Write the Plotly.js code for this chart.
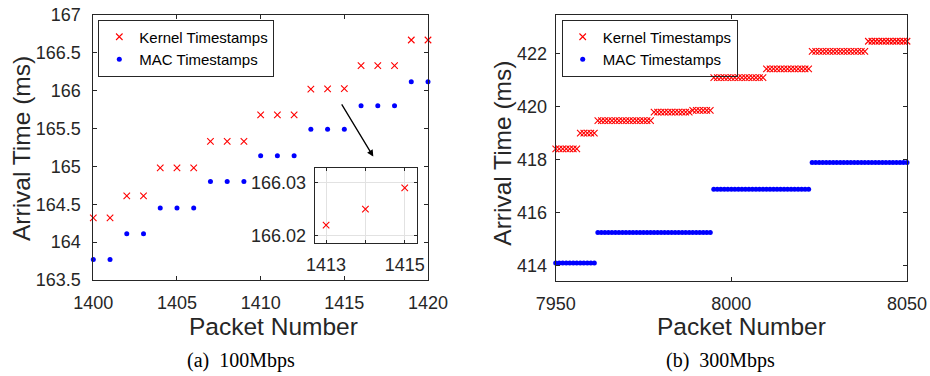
<!DOCTYPE html>
<html>
<head>
<meta charset="utf-8">
<script src="https://cdn.plot.ly/plotly-3.0.1.min.js"></script>
<style>
  html, body { margin: 0; padding: 0; background: #ffffff; }
  #chart { width: 930px; height: 376px; }
</style>
</head>
<body>
<div id="chart"></div>
<script>
// (a) 100Mbps: arrival time per packet
const packetsA = [1400, 1401, 1402, 1403, 1404, 1405, 1406, 1407, 1408, 1409, 1410,
                  1411, 1412, 1413, 1414, 1415, 1416, 1417, 1418, 1419, 1420];
const kernelA = [164.32, 164.32, 164.61, 164.61, 164.98, 164.98, 164.98, 165.33, 165.33, 165.33, 165.68,
                 165.68, 165.68, 166.022, 166.025, 166.029, 166.33, 166.33, 166.33, 166.67, 166.67];
const macA = [163.77, 163.77, 164.11, 164.11, 164.45, 164.45, 164.45, 164.80, 164.80, 164.80, 165.14,
              165.14, 165.14, 165.49, 165.49, 165.49, 165.80, 165.80, 165.80, 166.12, 166.12];

// zoomed window of three kernel timestamps
const insetPackets = [1413, 1414, 1415];
const insetKernel = [166.022, 166.025, 166.029];

// (b) 300Mbps: arrival time per packet
const packetsB = [
  7950, 7951, 7952, 7953, 7954, 7955, 7956, 7957, 7958, 7959,
  7960, 7961, 7962, 7963, 7964, 7965, 7966, 7967, 7968, 7969,
  7970, 7971, 7972, 7973, 7974, 7975, 7976, 7977, 7978, 7979,
  7980, 7981, 7982, 7983, 7984, 7985, 7986, 7987, 7988, 7989,
  7990, 7991, 7992, 7993, 7994, 7995, 7996, 7997, 7998, 7999,
  8000, 8001, 8002, 8003, 8004, 8005, 8006, 8007, 8008, 8009,
  8010, 8011, 8012, 8013, 8014, 8015, 8016, 8017, 8018, 8019,
  8020, 8021, 8022, 8023, 8024, 8025, 8026, 8027, 8028, 8029,
  8030, 8031, 8032, 8033, 8034, 8035, 8036, 8037, 8038, 8039,
  8040, 8041, 8042, 8043, 8044, 8045, 8046, 8047, 8048, 8049, 8050
];
const kernelB = [
  418.40, 418.40, 418.40, 418.40, 418.40, 418.40, 418.40, 419.00, 419.00, 419.00,
  419.00, 419.00, 419.47, 419.47, 419.47, 419.47, 419.47, 419.47, 419.47, 419.47,
  419.47, 419.47, 419.47, 419.47, 419.47, 419.47, 419.47, 419.47, 419.79, 419.79,
  419.79, 419.79, 419.79, 419.79, 419.79, 419.79, 419.79, 419.79, 419.79, 419.85,
  419.85, 419.85, 419.85, 419.85, 419.85, 421.09, 421.09, 421.09, 421.09, 421.09,
  421.09, 421.09, 421.09, 421.09, 421.09, 421.09, 421.09, 421.09, 421.09, 421.09,
  421.42, 421.42, 421.42, 421.42, 421.42, 421.42, 421.42, 421.42, 421.42, 421.42,
  421.42, 421.42, 421.42, 422.08, 422.08, 422.08, 422.08, 422.08, 422.08, 422.08,
  422.08, 422.08, 422.08, 422.08, 422.08, 422.08, 422.08, 422.08, 422.08, 422.46,
  422.46, 422.46, 422.46, 422.46, 422.46, 422.46, 422.46, 422.46, 422.46, 422.46, 422.46
];
const macB = [
  414.10, 414.10, 414.10, 414.10, 414.10, 414.10, 414.10, 414.10, 414.10, 414.10,
  414.10, 414.10, 415.25, 415.25, 415.25, 415.25, 415.25, 415.25, 415.25, 415.25,
  415.25, 415.25, 415.25, 415.25, 415.25, 415.25, 415.25, 415.25, 415.25, 415.25,
  415.25, 415.25, 415.25, 415.25, 415.25, 415.25, 415.25, 415.25, 415.25, 415.25,
  415.25, 415.25, 415.25, 415.25, 415.25, 416.88, 416.88, 416.88, 416.88, 416.88,
  416.88, 416.88, 416.88, 416.88, 416.88, 416.88, 416.88, 416.88, 416.88, 416.88,
  416.88, 416.88, 416.88, 416.88, 416.88, 416.88, 416.88, 416.88, 416.88, 416.88,
  416.88, 416.88, 416.88, 417.89, 417.89, 417.89, 417.89, 417.89, 417.89, 417.89,
  417.89, 417.89, 417.89, 417.89, 417.89, 417.89, 417.89, 417.89, 417.89, 417.89,
  417.89, 417.89, 417.89, 417.89, 417.89, 417.89, 417.89, 417.89, 417.89, 417.89, 417.89
];

const seriesNames = ['Kernel Timestamps', 'MAC Timestamps'];
const captions = ['(a)\u00a0\u00a0100Mbps', '(b)\u00a0\u00a0300Mbps'];
const xTitle = 'Packet Number';
const yTitle = 'Arrival Time (ms)';

const SANS = 'Liberation Sans, Arial, Helvetica, sans-serif';
const SERIF = 'Liberation Serif, Times New Roman, serif';
const INK = '#262626';
const RED = '#ff0000';
const BLUE = '#0000ff';

const kernelMarker = { symbol: 'x-thin-open', size: 6.5, color: RED, line: { color: RED, width: 1.1 } };
const macMarker = { symbol: 'circle', size: 5, color: BLUE, line: { width: 0 } };

const traces = [
  { x: packetsA, y: kernelA, xaxis: 'x', yaxis: 'y', type: 'scatter', mode: 'markers',
    name: seriesNames[0], marker: kernelMarker, cliponaxis: false, legend: 'legend' },
  { x: packetsA, y: macA, xaxis: 'x', yaxis: 'y', type: 'scatter', mode: 'markers',
    name: seriesNames[1], marker: macMarker, cliponaxis: false, legend: 'legend' },
  { x: packetsB, y: kernelB, xaxis: 'x2', yaxis: 'y2', type: 'scatter', mode: 'markers',
    name: seriesNames[0], marker: kernelMarker, cliponaxis: false, legend: 'legend2' },
  { x: packetsB, y: macB, xaxis: 'x2', yaxis: 'y2', type: 'scatter', mode: 'markers',
    name: seriesNames[1], marker: macMarker, cliponaxis: false, legend: 'legend2' },
  { x: insetPackets, y: insetKernel, xaxis: 'x3', yaxis: 'y3', type: 'scatter', mode: 'markers',
    name: seriesNames[0], marker: kernelMarker, showlegend: false, cliponaxis: false }
];

// boxed axis with inward ticks on all four sides
function frameAxis(extra) {
  return Object.assign({
    showline: true, linecolor: INK, linewidth: 1, mirror: 'ticks',
    ticks: 'inside', ticklen: 4, tickwidth: 1, tickcolor: INK,
    showgrid: false, zeroline: false, fixedrange: true,
    tickfont: { family: SANS, size: 18, color: INK }
  }, extra);
}

const W = 930, H = 376;
const px = v => v / W;
const py = v => 1 - v / H;

function legendAt(left) {
  return {
    x: px(left), y: py(19.5), xanchor: 'left', yanchor: 'top',
    bgcolor: 'rgba(255,255,255,0)', bordercolor: INK, borderwidth: 1,
    font: { family: SANS, size: 15, color: '#000000' }, tracegroupgap: 0
  };
}

const layout = {
  width: W, height: H,
  margin: { l: 0, r: 0, t: 0, b: 0 },
  paper_bgcolor: '#ffffff', plot_bgcolor: '#ffffff',
  font: { family: SANS, color: INK },
  showlegend: true,
  xaxis: frameAxis({ domain: [px(93.3), px(428)], range: [1400, 1420], tick0: 1400, dtick: 5,
                     anchor: 'y', ticklabelstandoff: 6 }),
  yaxis: frameAxis({ domain: [py(280), py(15)], range: [163.5, 167], tick0: 163.5, dtick: 0.5,
                     anchor: 'x', ticklabelstandoff: 8 }),
  xaxis2: frameAxis({ domain: [px(555.7), px(907)], range: [7950, 8050], tick0: 7950, dtick: 50,
                      anchor: 'y2', ticklabelstandoff: 6 }),
  yaxis2: frameAxis({ domain: [py(281), py(15)], range: [413.42, 423.45], tick0: 414, dtick: 2,
                      anchor: 'x2', ticklabelstandoff: 4 }),
  xaxis3: frameAxis({ domain: [px(314.7), px(417.3)], range: [1412.71, 1415.32],
                      tickvals: insetPackets, ticktext: ['1413', '', '1415'],
                      showgrid: true, gridcolor: '#e2e2e2', gridwidth: 1,
                      ticklen: 3, anchor: 'y3', ticklabelstandoff: 6 }),
  yaxis3: frameAxis({ domain: [py(242.7), py(168.3)], range: [166.0187, 166.0327],
                      tickvals: [166.02, 166.03], ticktext: ['166.02', '166.03'],
                      showgrid: true, gridcolor: '#e2e2e2', gridwidth: 1,
                      ticklen: 3, anchor: 'x3', ticklabelstandoff: 4 }),
  legend: legendAt(98.3),
  legend2: legendAt(561.7),
  annotations: [
    // arrow pointing from the step at 1413-1415 down to the zoomed window
    { xref: 'x', yref: 'y', axref: 'x', ayref: 'y', x: 1416.73, y: 165.13, ax: 1414.79, ay: 165.84,
      text: '', showarrow: true, arrowhead: 2, arrowsize: 1, arrowwidth: 1.3, arrowcolor: '#000000',
      standoff: 0, startstandoff: 0 },
    // axis titles
    { xref: 'paper', yref: 'paper', x: px(273.8), y: py(326.5), xanchor: 'center', yanchor: 'middle',
      text: xTitle, showarrow: false, font: { family: SANS, size: 24.5, color: INK } },
    { xref: 'paper', yref: 'paper', x: px(741.3), y: py(326.5), xanchor: 'center', yanchor: 'middle',
      text: xTitle, showarrow: false, font: { family: SANS, size: 24.5, color: INK } },
    { xref: 'paper', yref: 'paper', x: px(22), y: py(149), xanchor: 'center', yanchor: 'middle',
      text: yTitle, textangle: -90, showarrow: false, font: { family: SANS, size: 24.5, color: INK } },
    { xref: 'paper', yref: 'paper', x: px(501.7), y: py(153), xanchor: 'center', yanchor: 'middle',
      text: yTitle, textangle: -90, showarrow: false, font: { family: SANS, size: 24.5, color: INK } },
    // sub-figure captions
    { xref: 'paper', yref: 'paper', x: px(241), y: py(360), xanchor: 'center', yanchor: 'middle',
      text: captions[0], showarrow: false, font: { family: SERIF, size: 20, color: '#000000' } },
    { xref: 'paper', yref: 'paper', x: px(720.3), y: py(360), xanchor: 'center', yanchor: 'middle',
      text: captions[1], showarrow: false, font: { family: SERIF, size: 20, color: '#000000' } }
  ]
};

Plotly.newPlot('chart', traces, layout, { staticPlot: true, displayModeBar: false });
</script>
</body>
</html>
